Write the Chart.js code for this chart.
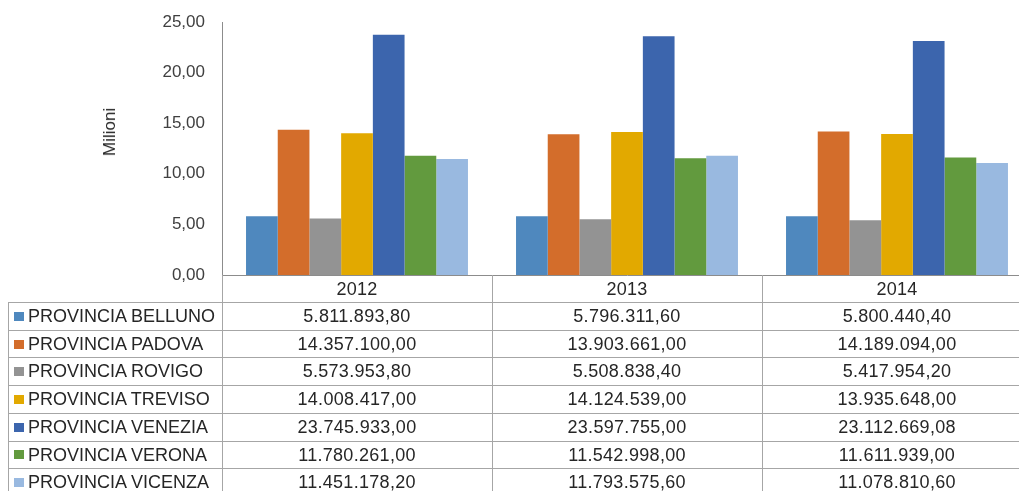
<!DOCTYPE html>
<html>
<head>
<meta charset="utf-8">
<script src="https://cdn.jsdelivr.net/npm/chart.js@4.4.1/dist/chart.umd.min.js"></script>
<style>
  html, body { margin: 0; padding: 0; background: #fff; }
  #wrap { position: relative; width: 1019px; height: 491px; overflow: hidden; background: #fff; font-family: "Liberation Sans", Arial, sans-serif; }
  #chartBox { position: absolute; left: 0; top: 0; width: 1040px; height: 300px; }
  .hl { position: absolute; height: 1px; background: #a6a6a6; }
  .vl { position: absolute; width: 1px; background: #a6a6a6; }
  .txt { position: absolute; white-space: nowrap; color: #262626; font-size: 18px; }
  .num { text-align: center; letter-spacing: 0.3px; }
  .sw { position: absolute; width: 10px; height: 9px; }
  #ytitle { position: absolute; left: 110px; top: 132px; transform: translate(-50%, -50%) rotate(-90deg); font-size: 17px; color: #262626; white-space: nowrap; }
</style>
</head>
<body>
<div id="wrap">
  <div id="chartBox"><canvas id="c"></canvas></div>
  <div id="ytitle">Milioni</div>
</div>
<script>
const categories = ["2012", "2013", "2014"];
const seriesNames = ["PROVINCIA BELLUNO", "PROVINCIA PADOVA", "PROVINCIA ROVIGO", "PROVINCIA TREVISO", "PROVINCIA VENEZIA", "PROVINCIA VERONA", "PROVINCIA VICENZA"];
const belluno = [5811893.80, 5796311.60, 5800440.40];
const padova  = [14357100.00, 13903661.00, 14189094.00];
const rovigo  = [5573953.80, 5508838.40, 5417954.20];
const treviso = [14008417.00, 14124539.00, 13935648.00];
const venezia = [23745933.00, 23597755.00, 23112669.08];
const verona  = [11780261.00, 11542998.00, 11611939.00];
const vicenza = [11451178.20, 11793575.60, 11078810.60];
const seriesValues = [belluno, padova, rovigo, treviso, venezia, verona, vicenza];
const seriesColors = ["#4F88BE", "#D36D2B", "#939393", "#E2A900", "#3C65AD", "#629A3E", "#99B9E0"];
const yTicks = [0, 5, 10, 15, 20, 25];

function fmtIt(v) {
  const parts = v.toFixed(2).split(".");
  const intPart = parts[0].replace(/\B(?=(\d{3})+(?!\d))/g, ".");
  return intPart + "," + parts[1];
}

const chart = new Chart(document.getElementById("c"), {
  type: "bar",
  data: {
    labels: categories,
    datasets: seriesNames.map((n, i) => ({
      label: n,
      data: seriesValues[i].map(v => v / 1e6),
      backgroundColor: seriesColors[i],
      borderWidth: 0
    }))
  },
  options: {
    responsive: true,
    maintainAspectRatio: false,
    animation: false,
    layout: { padding: { left: 0, right: 8, top: 22, bottom: 25 } },
    plugins: { legend: { display: false }, tooltip: { enabled: false } },
    datasets: { bar: { categoryPercentage: 0.822, barPercentage: 1 } },
    scales: {
      x: {
        ticks: { display: false },
        grid: { display: false, drawTicks: false },
        border: { display: true, color: "#8c8c8c", width: 1 }
      },
      y: {
        min: 0, max: 25,
        afterBuildTicks: s => { s.ticks = yTicks.map(v => ({ value: v })); },
        afterFit: s => { s.width = 222; s.paddingTop = 0; s.paddingBottom = 0; },
        ticks: {
          padding: 17,
          color: "#404040",
          font: { family: "'Liberation Sans', Arial, sans-serif", size: 17 },
          callback: v => v.toFixed(2).replace(".", ",")
        },
        grid: { display: false, drawTicks: false },
        border: { display: true, color: "#8c8c8c", width: 1 }
      }
    }
  }
});

// Data table below the chart, aligned to the category scale
(function buildTable() {
  const wrap = document.getElementById("wrap");
  const xs = chart.scales.x;
  const area = chart.chartArea;
  const colW = (area.right - area.left) / categories.length;
  const left0 = 8;
  const headTop = Math.round(area.bottom);
  const rowTop = 302;
  const rowH = 27.7;
  function add(cls, style, text) {
    const d = document.createElement("div");
    d.className = cls;
    Object.assign(d.style, style);
    if (text !== undefined) d.textContent = text;
    wrap.appendChild(d);
    return d;
  }
  add("vl", { left: left0 + "px", top: rowTop + "px", height: (491 - rowTop) + "px" });
  for (let c = 0; c <= categories.length; c++) {
    const x = Math.round(area.left + c * colW);
    add("vl", { left: x + "px", top: headTop + "px", height: (491 - headTop) + "px" });
  }
  for (let r = 0; r < seriesNames.length; r++) {
    const y = Math.round(rowTop + r * rowH);
    add("hl", { left: left0 + "px", top: y + "px", width: (1040 - left0) + "px" });
  }
  categories.forEach((c, i) => {
    const cx = xs.getPixelForValue(i);
    add("txt num", { left: (cx - colW / 2) + "px", width: colW + "px", top: headTop + "px", height: (rowTop - headTop) + "px", lineHeight: (rowTop - headTop + 1) + "px" }, c);
  });
  seriesNames.forEach((n, r) => {
    const top = rowTop + r * rowH;
    add("sw", { left: "14px", top: (top + rowH / 2 - 4) + "px", background: seriesColors[r] });
    add("txt", { left: "28px", top: top + "px", height: rowH + "px", lineHeight: (rowH + 1) + "px" }, n);
    categories.forEach((c, i) => {
      const cx = xs.getPixelForValue(i);
      add("txt num", { left: (cx - colW / 2) + "px", width: colW + "px", top: top + "px", height: rowH + "px", lineHeight: (rowH + 1) + "px" }, fmtIt(seriesValues[r][i]));
    });
  });
})();
</script>
</body>
</html>
